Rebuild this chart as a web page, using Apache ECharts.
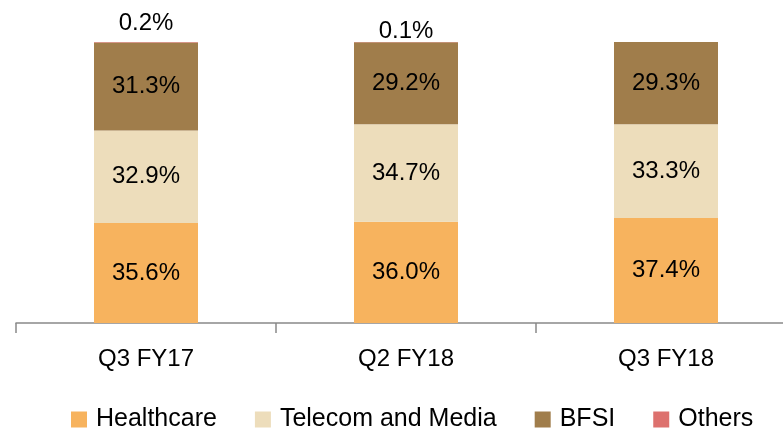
<!DOCTYPE html>
<html>
<head>
<meta charset="utf-8">
<script src="https://cdn.jsdelivr.net/npm/echarts@6/dist/echarts.min.js"></script>
<style>
  html, body { margin: 0; padding: 0; background: #fff; overflow: hidden; }
  #main { width: 800px; height: 429px; }
</style>
</head>
<body>
<div id="main"></div>
<script>
// quarters on the x axis
const categories = ['Q3 FY17', 'Q2 FY18', 'Q3 FY18'];
// revenue share by vertical (%)
const healthcare = [35.6, 36.0, 37.4];
const telecomMedia = [32.9, 34.7, 33.3];
const bfsi = [31.3, 29.2, 29.3];
const others = [0.2, 0.1, 0.0];

const font = 'Liberation Sans';

function pct(p) { return p.value.toFixed(1) + '%'; }

function barSeries(name, data, color) {
  return {
    name: name,
    type: 'bar',
    stack: 'total',
    barWidth: '40%',
    data: data,
    itemStyle: { color: color },
    label: {
      show: true,
      position: 'inside',
      formatter: pct,
      color: '#000',
      fontSize: 24,
      fontFamily: font
    }
  };
}

let myChart = echarts.init(document.getElementById('main'));
myChart.setOption({
  animation: false,
  grid: { left: 16, right: 4, top: 42, bottom: 106 },
  legend: {
    top: 402,
    left: 66,
    itemWidth: 16,
    itemHeight: 16,
    itemGap: 38,
    icon: 'rect',
    textStyle: { fontSize: 25, fontFamily: font, color: '#000', padding: [0, 0, 0, 4] },
    data: ['Healthcare', 'Telecom and Media', 'BFSI', 'Others']
  },
  xAxis: {
    type: 'category',
    data: categories,
    axisLine: { lineStyle: { color: '#898989', width: 1.5 } },
    axisTick: { show: true, length: 10, lineStyle: { color: '#898989', width: 1.5 } },
    axisLabel: { color: '#000', fontSize: 24, fontFamily: font, margin: 24 }
  },
  yAxis: {
    type: 'value',
    min: 0,
    max: 100,
    show: false,
    splitLine: { show: false }
  },
  series: [
    barSeries('Healthcare', healthcare, '#F7B35E'),
    barSeries('Telecom and Media', telecomMedia, '#EDDDBB'),
    barSeries('BFSI', bfsi, '#A07D4B'),
    {
      name: 'Others',
      type: 'bar',
      stack: 'total',
      barWidth: '40%',
      barMinHeight: 1,
      itemStyle: { color: '#DD716E' },
      data: others.map(function (v, i) {
        return {
          value: v,
          label: { distance: i === 0 ? 7 : -1 }
        };
      }),
      label: {
        show: true,
        position: 'top',
        formatter: function (p) { return p.value > 0 ? pct(p) : ''; },
        color: '#000',
        fontSize: 24,
        fontFamily: font
      }
    }
  ]
});
</script>
</body>
</html>
